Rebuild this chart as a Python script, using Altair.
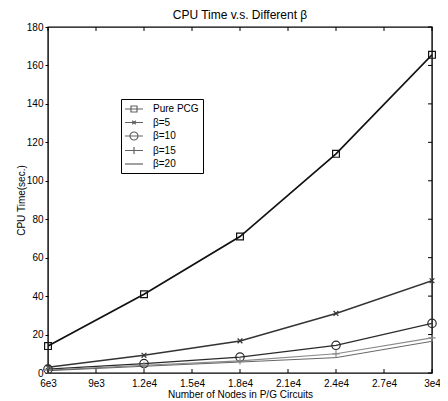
import altair as alt
import pandas as pd

series = ["Pure PCG", "β=5", "β=10", "β=15", "β=20"]
nodes = [6000, 12000, 18000, 24000, 30000]
pcg = [14, 41, 71, 114, 165.5]
b5 = [3, 9.2, 16.7, 31, 48]
b10 = [2, 4.9, 8.3, 14.4, 25.8]
b15 = [1.5, 4, 6.3, 10, 18.3]
b20 = [1.2, 3.5, 5.7, 8, 16.5]

x_ticks = [6000, 9000, 12000, 15000, 18000, 21000, 24000, 27000, 30000]
x_labels = ["6e3", "9e3", "1.2e4", "1.5e4", "1.8e4", "2.1e4", "2.4e4", "2.7e4", "3e4"]
y_ticks = [0, 20, 40, 60, 80, 100, 120, 140, 160, 180]

line_colors = ["#111111", "#333333", "#2a2a2a", "#8a8a8a", "#555555"]
line_widths = [1.7, 0.9, 0.9, 0.9, 0.9]
marker_paths = [
    "M-0.85,-0.85H0.85V0.85H-0.85Z",
    "M-0.6,-0.6L0.6,0.6M-0.6,0.6L0.6,-0.6",
    "M1.05,0A1.05,1.05 0 1,1 -1.05,0A1.05,1.05 0 1,1 1.05,0Z",
    "M-0.9,0H0.9M0,-0.9V0.9",
    "M0,0",
]
legend_paths = [
    "M-1.8,0H1.8M-0.6,-0.6H0.6V0.6H-0.6Z",
    "M-1.8,0H1.8M-0.35,-0.35L0.35,0.35M-0.35,0.35L0.35,-0.35",
    "M-1.8,0H1.8M0.8,0A0.8,0.8 0 1,1 -0.8,0A0.8,0.8 0 1,1 0.8,0Z",
    "M-1.8,0H1.8M0,-0.7V0.7",
    "M-1.8,0H1.8",
]

rows = []
for s, vals in zip(series, [pcg, b5, b10, b15, b20]):
    for n, v in zip(nodes, vals):
        rows.append({"nodes": n, "time": v, "series": s})
df = pd.DataFrame(rows)
xt = pd.DataFrame({"nodes": x_ticks})
yt = pd.DataFrame({"time": y_ticks})

W, H = 384, 346
FONT = "Liberation Sans"
xscale = alt.Scale(domain=[6000, 30000], nice=False, zero=False)
yscale = alt.Scale(domain=[0, 180], nice=False)

label_expr = ""
for v, l in zip(x_ticks, x_labels):
    label_expr += f"datum.value == {v} ? '{l}' : "
label_expr += "''"

x_axis = alt.Axis(values=x_ticks, labelExpr=label_expr, ticks=False, domain=False, grid=False,
                  labelFlush=False,
                  title="Number of Nodes in P/G Circuits", labelFontSize=10, titleFontSize=10,
                  labelPadding=5, titlePadding=1, titleFontWeight="normal", labelColor="#000",
                  titleColor="#000", labelFont=FONT, titleFont=FONT)
y_axis = alt.Axis(values=y_ticks, ticks=True, tickSize=3, tickColor="#000", domain=False, grid=False,
                  labelFlush=False,
                  title="CPU Time(sec.)", labelFontSize=10, titleFontSize=10, labelPadding=2,
                  titleX=-27, titleY=H / 2, titleAlign="center", titleBaseline="middle",
                  titleFontWeight="normal", labelColor="#000", titleColor="#000",
                  labelFont=FONT, titleFont=FONT)

X = alt.X("nodes:Q", scale=xscale, axis=x_axis)
Y = alt.Y("time:Q", scale=yscale, axis=y_axis)

color = alt.Color("series:N", scale=alt.Scale(domain=series, range=line_colors), legend=None)

lines = alt.Chart(df).mark_line(clip=True).encode(
    x=X, y=Y,
    color=color,
    strokeWidth=alt.StrokeWidth("series:N", scale=alt.Scale(domain=series, range=line_widths), legend=None),
    detail="series:N",
)

points = alt.Chart(df).mark_point(filled=False, size=64, strokeWidth=1.2, opacity=1).encode(
    x=X, y=Y,
    color=color,
    shape=alt.Shape("series:N", scale=alt.Scale(domain=series, range=marker_paths), legend=None),
)

legend_layer = alt.Chart(df).transform_filter("false").mark_point(filled=False, size=100).encode(
    x=X, y=Y,
    shape=alt.Shape("series:N", scale=alt.Scale(domain=series, range=legend_paths),
                    legend=alt.Legend(title=None, orient="none", legendX=73, legendY=72,
                                      strokeColor="#000", fillColor="#fff", padding=4,
                                      labelFontSize=10, labelFont=FONT, labelColor="#000",
                                      symbolStrokeColor="#222", symbolStrokeWidth=1.2,
                                      symbolFillColor="transparent", symbolSize=100,
                                      symbolOffset=3, labelOffset=13, rowPadding=1.5)),
)

tick_bottom = alt.Chart(xt).mark_rule(color="#000", strokeWidth=1).encode(
    x=X, y=alt.value(H), y2=alt.value(H - 4))
tick_top = alt.Chart(xt).mark_rule(color="#000", strokeWidth=1).encode(
    x=X, y=alt.value(0), y2=alt.value(4))
tick_right = alt.Chart(yt).mark_rule(color="#000", strokeWidth=1).encode(
    y=Y, x=alt.value(W), x2=alt.value(W - 4))

chart = alt.layer(lines, points, legend_layer, tick_bottom, tick_top, tick_right).resolve_scale(
    shape="independent"
).properties(
    width=W, height=H,
    background="#ffffff",
    title=alt.TitleParams("CPU Time v.s. Different β", fontSize=12, font=FONT, fontWeight="normal",
                          color="#000", offset=0, anchor="middle"),
    autosize=alt.AutoSizeParams(type="none"),
    padding={"left": 40, "top": 19, "right": 8, "bottom": 26},
).configure_view(
    stroke="#000", strokeWidth=1.4
)

chart.save("out.html", embed_options={"renderer": "svg", "actions": False})
